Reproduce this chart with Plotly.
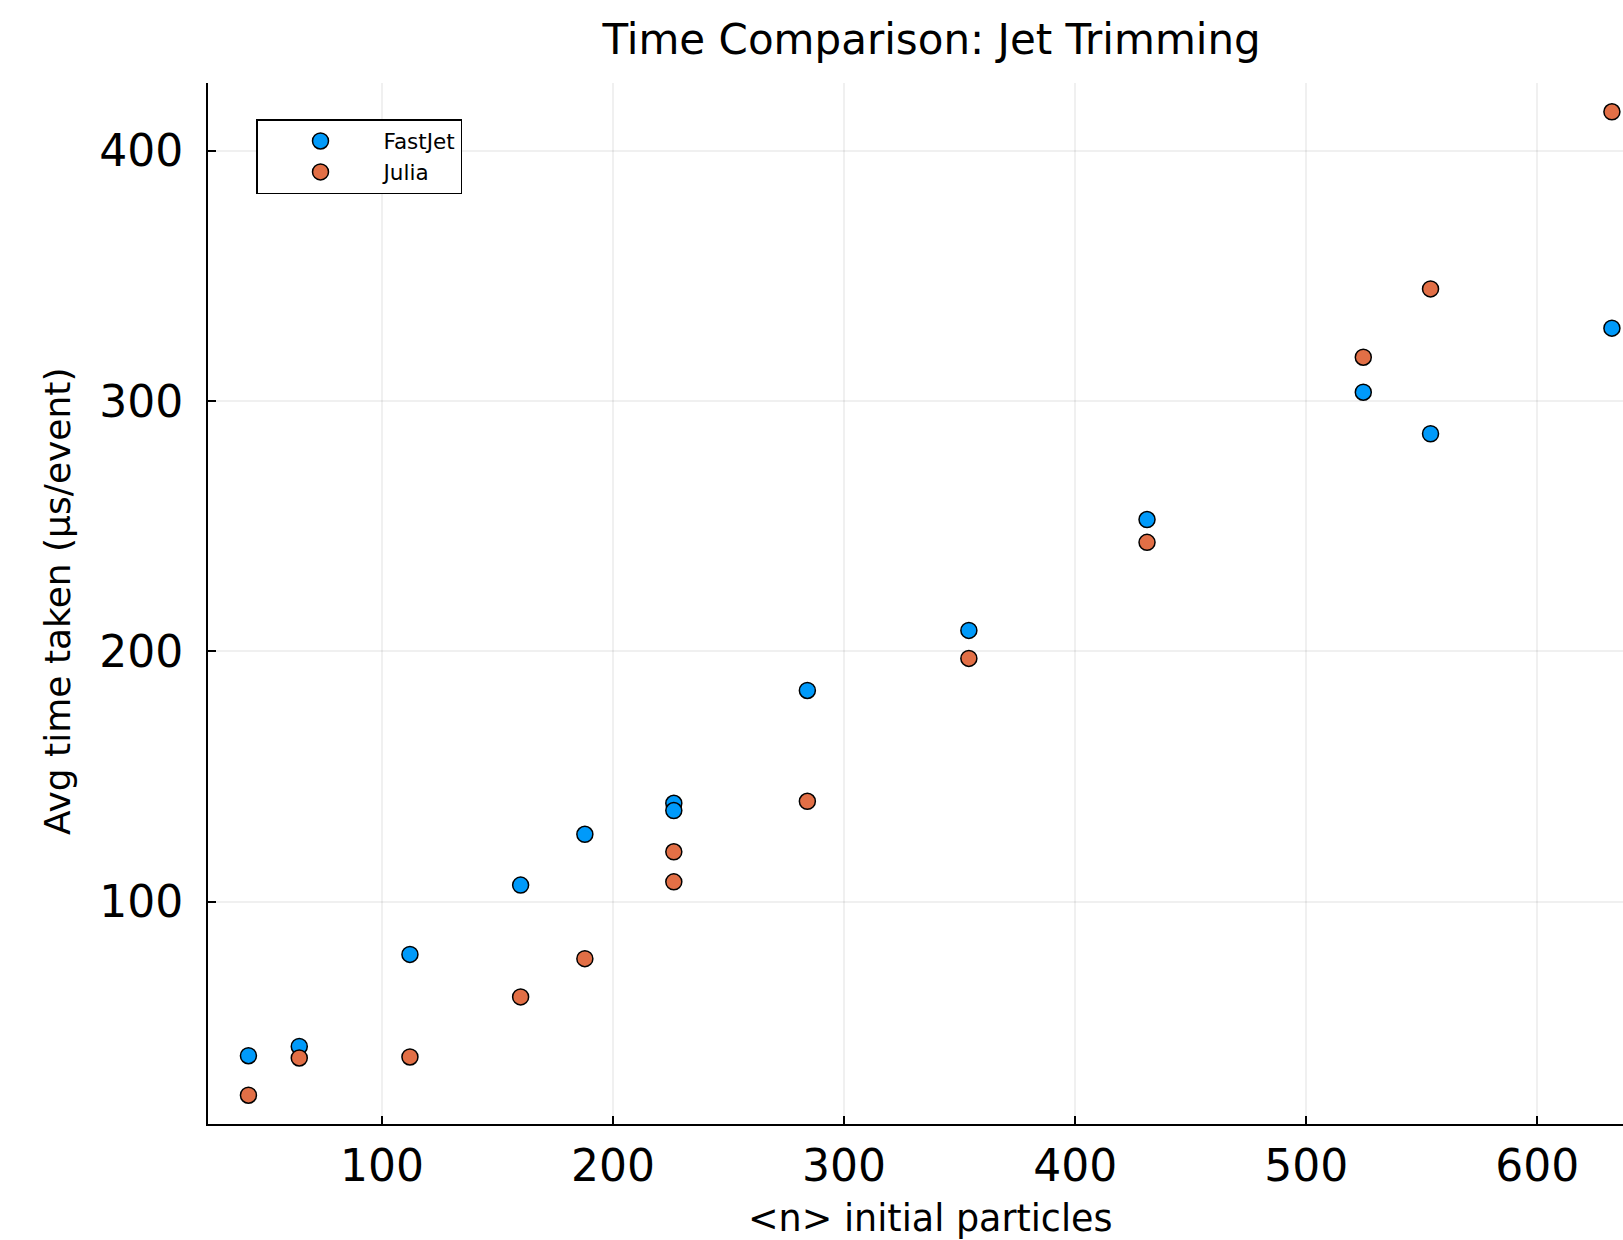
import plotly.graph_objects as go

# Data
fastjet_n = [42.2, 64.2, 112.1, 160.0, 187.8, 226.3, 226.3, 284.1, 354.0, 431.1, 524.7, 553.8, 632.3]
fastjet_t = [38.4, 42.1, 78.9, 106.6, 126.9, 139.3, 136.4, 184.4, 208.4, 252.7, 303.6, 287.0, 329.2]

julia_n = [42.2, 64.2, 112.1, 160.0, 187.8, 226.3, 226.3, 284.1, 354.0, 431.1, 524.7, 553.8, 632.3]
julia_t = [22.6, 37.5, 37.9, 61.9, 77.2, 119.9, 107.9, 140.1, 197.2, 243.6, 317.6, 344.9, 415.7]

x_ticks = [100, 200, 300, 400, 500, 600]
y_ticks = [100, 200, 300, 400]

title_text = "Time Comparison: Jet Trimming"
x_title = "&lt;n&gt; initial particles"
y_title = "Avg time taken (μs/event)"

FONT = "DejaVu Sans"

fig = go.Figure()
fig.add_trace(go.Scatter(
    x=fastjet_n, y=fastjet_t, mode="markers", name="FastJet",
    marker=dict(color="#009AFA", size=16, line=dict(color="black", width=1.5)),
))
fig.add_trace(go.Scatter(
    x=julia_n, y=julia_t, mode="markers", name="Julia",
    marker=dict(color="#E26F46", size=16, line=dict(color="black", width=1.5)),
))

axis_common = dict(
    showline=True, linecolor="black", linewidth=2,
    ticks="inside", ticklen=8, tickwidth=1.5, tickcolor="black",
    showgrid=True, gridcolor="rgba(0,0,0,0.06)", gridwidth=1.5,
    zeroline=False, mirror=False,
    tickfont=dict(family=FONT, size=44, color="black"),
)

fig.update_layout(
    width=1623, height=1240,
    margin=dict(l=208, r=0, t=83, b=116),
    paper_bgcolor="white", plot_bgcolor="white",
    title=dict(text=title_text, x=931.6 / 1623, xref="container", xanchor="center",
               y=1 - 39 / 1240, yref="container", yanchor="middle",
               font=dict(family=FONT, size=42, color="black")),
    xaxis=dict(range=[24.7, 637.1], tickvals=x_ticks, ticklabelstandoff=2, **axis_common),
    yaxis=dict(range=[11.1, 427.2], tickvals=y_ticks, ticklabelstandoff=14, **axis_common),
    showlegend=True,
    legend=dict(x=(256 - 208) / 1415, y=(1124 - 119) / 1041, xanchor="left", yanchor="top",
                bgcolor="white", bordercolor="black", borderwidth=1.5,
                font=dict(family=FONT, size=21.5, color="black"),
                itemwidth=116, tracegroupgap=0,
                entrywidth=92, entrywidthmode="pixels"),
    annotations=[
        dict(text=x_title, xref="paper", yref="paper", x=(930 - 208) / 1415, y=(1124 - 1218) / 1041,
             xanchor="center", yanchor="middle", showarrow=False,
             font=dict(family=FONT, size=36.5, color="black")),
        dict(text=y_title, xref="paper", yref="paper", x=(57 - 208) / 1415, y=(1124 - 602) / 1041,
             xanchor="center", yanchor="middle", showarrow=False, textangle=-90,
             font=dict(family=FONT, size=36, color="black")),
    ],
)

fig.write_html("out.html")
